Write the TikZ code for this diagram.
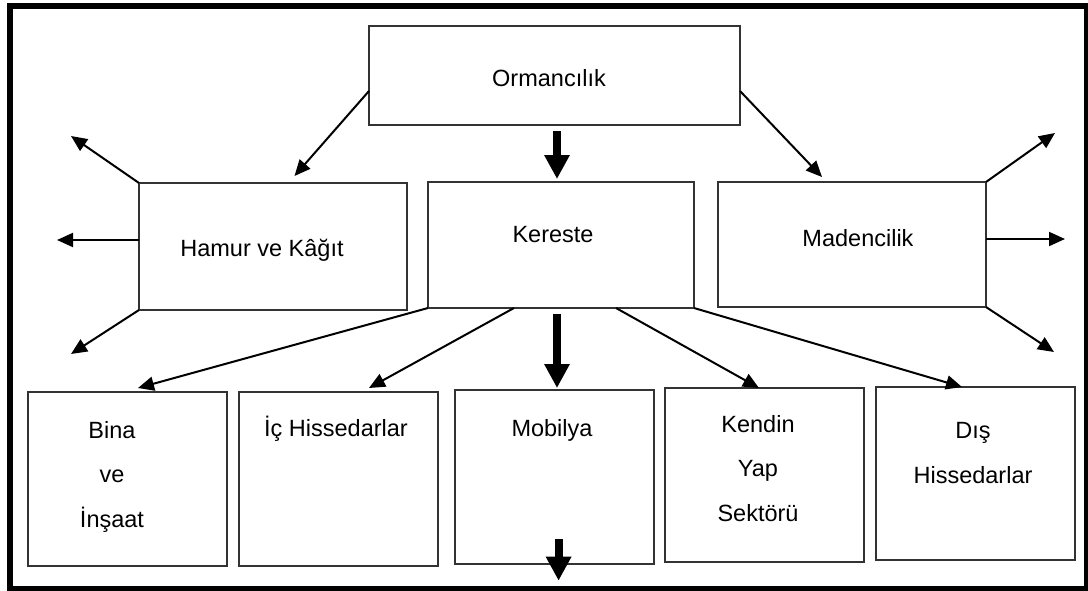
\documentclass[tikz,border=0pt]{standalone}
\usepackage{fontspec}
\setmainfont{Liberation Sans}
\usetikzlibrary{arrows.meta}
\tikzset{
  kutu/.style={draw=black!80, line width=2pt, inner sep=0pt, outer sep=0pt,
    minimum width=199pt, minimum height=174pt},
  yazi/.style={font=\fontsize{23.5}{44.5}\selectfont, inner sep=0pt, anchor=base, align=center},
  ok/.style={-{Triangle[length=16pt,width=14pt]}, line width=2pt},
  kalinok/.style={-{Triangle[length=24pt,width=24pt]}, line width=8pt},
}
\begin{document}
\begin{tikzpicture}[x=1pt,y=-1pt]
  \useasboundingbox (0,0) rectangle (1088,590);
  \draw[line width=5.5pt] (10,6.2) rectangle (1086.5,588.5);

  % kutular
  \node[kutu, minimum width=371pt, minimum height=99pt] (orm) at (554.5,75.5) {};
  \node[kutu, minimum width=268pt, minimum height=127pt] (ham) at (273,246.5) {};
  \node[kutu, minimum width=266pt, minimum height=126pt] (ker) at (561,245) {};
  \node[kutu, minimum width=268pt, minimum height=125pt] (mad) at (852,244.5) {};
  \node[kutu] (bina) at (127.5,479) {};
  \node[kutu, minimum width=199.5pt] (ic) at (338.25,479) {};
  \node[kutu] (mob) at (554.5,477) {};
  \node[kutu] (kendin) at (764.5,475) {};
  \node[kutu, minimum height=173pt] (dis) at (975.5,473.5) {};

  % yazilar (cok satirlida taban son satirda)
  \node[yazi] (t-orm) at (549,86) {Ormancılık};
  \node[yazi] (t-ham) at (262,256) {Hamur ve Kâğıt};
  \node[yazi] (t-ker) at (553,242.7) {Kereste};
  \node[yazi] (t-mad) at (858,246.7) {Madencilik};
  \node[yazi] (t-bina) at (112,527) {Bina\\ve\\İnşaat};
  \node[yazi] (t-ic) at (336,436) {İç Hissedarlar};
  \node[yazi] (t-mob) at (552,436) {Mobilya};
  \node[yazi] (t-kendin) at (758,521) {Kendin\\Yap\\Sektörü};
  \node[yazi] (t-dis) at (973,483) {Dış\\Hissedarlar};

  % bos uclar
  \coordinate (h1) at (71,136);
  \coordinate (h2) at (57,240);
  \coordinate (h3) at (71,354);
  \coordinate (m1) at (1055,133);
  \coordinate (m2) at (1065,239);
  \coordinate (m3) at (1054,352);
  \coordinate (alt) at (558.6,580.7);

  \draw[ok] ([yshift=-15.5pt]orm.west) -- ([xshift=21.5pt,yshift=7pt]ham.north);
  \draw[ok] ([yshift=-15.5pt]orm.east) -- ([xshift=-30pt,yshift=5pt]mad.north);
  \draw[kalinok] ([xshift=2.5pt,yshift=-6pt]orm.south) -- ([xshift=-4pt,yshift=3pt]ker.north);

  \draw[ok] (ham.north west) -- (h1);
  \draw[ok] ([yshift=6.5pt]ham.west) -- (h2);
  \draw[ok] (ham.south west) -- (h3);
  \draw[ok] (mad.north east) -- (m1);
  \draw[ok] ([yshift=5.5pt]mad.east) -- (m2);
  \draw[ok] (mad.south east) -- (m3);

  \draw[ok] (ker.south west) -- ([xshift=10.5pt,yshift=4pt]bina.north);
  \draw[ok] ([xshift=-47pt]ker.south) -- ([xshift=30.75pt,yshift=4pt]ic.north);
  \draw[kalinok] ([xshift=-4pt,yshift=-6pt]ker.south) -- ([xshift=2.5pt,yshift=2pt]mob.north);
  \draw[ok] ([xshift=55pt]ker.south) -- ([xshift=-5.5pt]kendin.north);
  \draw[ok] (ker.south east) -- ([xshift=-13.5pt]dis.north);
  \draw[kalinok] ([xshift=4.1pt,yshift=25pt]mob.south) -- (alt);
\end{tikzpicture}
\end{document}
